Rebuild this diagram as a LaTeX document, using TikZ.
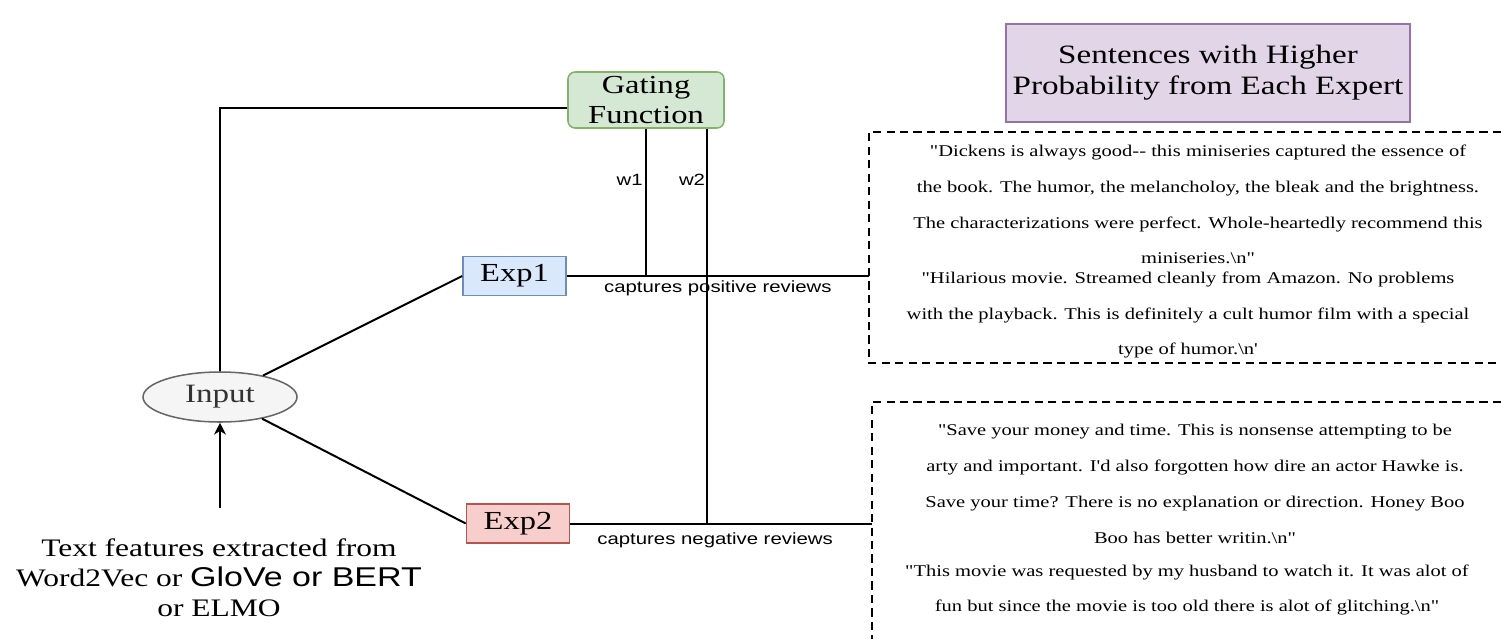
\documentclass[tikz,border=0pt]{standalone}
\usepackage{fontspec}
\setmainfont{Liberation Serif}[FakeStretch=1.25]
\setsansfont{Liberation Sans}[FakeStretch=1.25]
\newfontfamily\revfont{Liberation Serif}[FakeStretch=1.25]
\usetikzlibrary{arrows.meta,shapes.geometric,calc}

\definecolor{gateFill}{HTML}{D5E8D4}
\definecolor{gateLine}{HTML}{82B366}
\definecolor{posFill}{HTML}{DAE8FC}
\definecolor{posLine}{HTML}{6C8EBF}
\definecolor{negFill}{HTML}{F8CECC}
\definecolor{negLine}{HTML}{B85450}
\definecolor{sentFill}{HTML}{E1D5E7}
\definecolor{sentLine}{HTML}{9673A6}
\definecolor{inFill}{HTML}{F5F5F5}
\definecolor{inLine}{HTML}{666666}

\begin{document}
\begin{tikzpicture}[x=0.03cm,y=-0.03cm,
  wire/.style={line width=1.7pt},
  expert/.style={draw,line width=1.3pt,minimum width=3.09cm,minimum height=1.18cm,
    inner sep=0pt,font=\fontsize{22.2}{25}\selectfont},
  gatebox/.style={draw=gateLine,fill=gateFill,line width=1.3pt,rounded corners=6pt,
    minimum width=4.68cm,minimum height=1.68cm,inner sep=0pt,align=center,
    font=\fontsize{22.2}{25.6}\selectfont},
  titlebox/.style={draw=sentLine,fill=sentFill,line width=1.3pt,
    minimum width=12.12cm,minimum height=2.94cm,inner sep=0pt,align=center,
    font=\fontsize{22.6}{26.4}\selectfont},
  review/.style={align=center,inner sep=0pt,font=\revfont\fontsize{14}{30.6}\selectfont},
  reviewbox/.style={line width=1.6pt,dash pattern=on 7pt off 4.5pt},
  small/.style={font=\sffamily\fontsize{13.9}{15}\selectfont,inner sep=2pt}]
% Canvas
\useasboundingbox (0,0) rectangle (1501,639);

% Parameters
\def\boxL{869}
\def\boxR{1501}

% Model
\node[gatebox] (gating) at (646,100) {Gating\\Function};
\node[expert,fill=posFill,draw=posLine] (exp1) at (514.5,276) {Exp1};
\node[expert,fill=negFill,draw=negLine] (exp2) at (518,523.5) {Exp2};
\node[ellipse,draw=inLine,fill=inFill,line width=1.3pt,minimum width=4.62cm,
  minimum height=1.5cm,inner sep=0pt,text=black!80,
  font=\fontsize{22.6}{25}\selectfont] (input) at (220,397) {Input};
\node[align=center,inner sep=0pt,font=\fontsize{21.5}{25.6}\selectfont] (feat) at (219,578)
  {Text features extracted from\\
   Word2Vec or {\sffamily\fontsize{23.2}{25.6}\selectfont GloVe or BERT}\\
   or ELMO};
\coordinate (src) at (220,508);
\coordinate (g2) at ($(gating.south)!0.77!(gating.south east)$);
\coordinate (b1) at (\boxL,276);
\coordinate (b2) at (872,523.5);

\draw[wire] (input.north) |- ([yshift=-6.8pt]gating.west);
\draw[wire] (input) -- (exp1.west);
\draw[wire] (input) -- (exp2.west);
\draw[wire,-{Stealth[length=10pt,width=10pt,inset=3pt]}] (src) -- (input.south);

\draw[wire] (gating.south) -- (gating.south |- exp1.east)
  node[small,pos=0.35,left] {w1};
\draw[wire] (g2) -- (g2 |- exp2.east)
  node[small,pos=0.13,left,inner sep=0.5pt] {w2};
\draw[wire] (exp1.east) -- (b1) node[small,pos=0.5,below=1pt] {captures positive reviews};
\draw[wire] (exp2.east) -- (b2) node[small,pos=0.48,below=5pt] {captures negative reviews};

% Sentences
\node[titlebox] (title) at (1208,73) {Sentences with Higher\\Probability from Each Expert};

\draw[reviewbox] (\boxR,132) -- (\boxL,132) -- (\boxL,363) -- (\boxR,363);
\draw[reviewbox] (\boxR,402) -- (872,402) -- (872,639);

\node[review] (rev1) at (1198,204.5)
  {"Dickens is always good-{}- this miniseries captured the essence of\\
   the book. The humor, the melancholoy, the bleak and the brightness.\\
   The characterizations were perfect. Whole-heartedly recommend this\\
   miniseries.\textbackslash n"};
\node[review] (rev2) at (1188,315)
  {"Hilarious movie. Streamed cleanly from Amazon. No problems\\
   with the playback. This is definitely a cult humor film with a special\\
   type of humor.\textbackslash n'};
\node[review] (rev3) at (1195,484)
  {"Save your money and time. This is nonsense attempting to be\\
   arty and important. I'd also forgotten how dire an actor Hawke is.\\
   Save your time? There is no explanation or direction. Honey Boo\\
   Boo has better writin.\textbackslash n"};
\node[review] (rev4) at (1187,590)
  {"This movie was requested by my husband to watch it. It was alot of\\
   fun but since the movie is too old there is alot of glitching.\textbackslash n"};
\end{tikzpicture}
\end{document}
